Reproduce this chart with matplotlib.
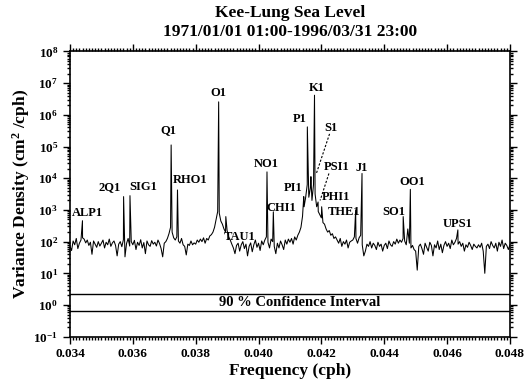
import numpy as np
import matplotlib
matplotlib.use("Agg")
import matplotlib.pyplot as plt
from matplotlib.ticker import MultipleLocator, LogLocator, NullFormatter

plt.rcParams["font.family"] = ["Liberation Serif", "DejaVu Serif"]
plt.rcParams["font.weight"] = "bold"
plt.rcParams["mathtext.fontset"] = "custom"
plt.rcParams["mathtext.rm"] = "Liberation Serif:bold"
plt.rcParams["mathtext.bf"] = "Liberation Serif:bold"
plt.rcParams["mathtext.it"] = "Liberation Serif:bold:italic"

# background spectrum, log10(cm^2/cph), one row per 0.001 cph starting at 0.034, step 0.00005
f_start = 0.034
f_step = 0.00005
bg_log = [
    1.85, 1.72, 2.02, 1.90, 2.10, 1.78, 1.95, 2.05, 2.12, 2.08, 1.96, 2.05, 1.88, 1.98, 1.60, 2.02, 1.92, 1.82, 2.00, 1.86,
    1.95, 2.05, 1.80, 1.98, 1.90, 2.08, 1.85, 1.96, 2.02, 1.88, 1.55, 1.92, 2.00, 1.84, 2.06, 1.52, 1.94, 2.10, 1.86, 2.00,
    1.90, 2.04, 1.75, 1.98, 1.88, 2.06, 1.80, 1.97, 1.62, 2.02, 1.90, 1.85, 2.03, 1.92, 1.98, 1.86, 2.05, 1.94, 1.78, 1.52,
    1.95, 2.00, 2.10, 2.25, 2.45, 2.30, 2.12, 2.05, 2.15, 2.02, 1.95, 2.10, 1.90, 1.85, 1.58, 1.92, 1.88, 2.02, 1.90, 1.96,
    1.92, 2.05, 1.98, 2.08, 2.00, 2.12, 1.95, 2.10, 2.05, 2.18, 2.22, 2.30, 2.45, 2.70, 2.95, 2.90, 2.65, 2.55, 2.40, 2.30,
    2.35, 2.15, 2.05, 1.92, 1.80, 1.62, 1.88, 1.95, 1.70, 1.90, 2.00, 1.78, 1.92, 1.55, 1.85, 1.96, 1.68, 1.90, 2.05, 1.82,
    1.95, 1.72, 2.02, 1.90, 2.05, 2.15, 1.98, 1.80, 2.08, 2.00, 1.85, 1.62, 1.95, 1.80, 2.02, 1.90, 1.75, 2.05, 1.92, 2.08,
    1.98, 2.10, 1.92, 2.15, 2.05, 2.20, 2.30, 2.45, 2.80, 3.10, 3.40, 3.80, 3.40, 3.70, 3.30, 3.80, 3.50, 3.10, 2.95, 2.85,
    2.75, 2.60, 2.55, 2.40, 2.30, 2.35, 2.20, 2.25, 2.10, 2.15, 2.05, 1.95, 2.10, 1.85, 2.00, 1.92, 2.05, 1.80, 1.98, 2.02,
    2.05, 2.15, 2.10, 1.95, 2.12, 2.20, 1.90, 1.55, 1.70, 1.92, 1.85, 2.00, 1.80, 1.95, 1.88, 1.75, 1.98, 1.85, 1.92, 1.70,
    1.88, 1.95, 1.78, 2.02, 1.90, 1.85, 2.00, 1.92, 2.08, 1.95, 2.05, 1.98, 2.10, 2.02, 1.90, 2.40, 1.95, 1.80, 1.88, 1.75,
    1.70, 1.10, 1.85, 1.92, 1.78, 1.60, 1.95, 1.82, 1.70, 1.98, 1.88, 1.55, 1.90, 1.80, 2.02, 1.75, 1.92, 1.65, 1.88, 2.00,
    1.85, 1.95, 1.78, 2.05, 1.90, 1.98, 2.10, 1.92, 2.00, 1.85, 1.95, 1.70, 1.90, 1.82, 1.98, 1.88, 1.75, 1.92, 1.85, 1.80,
    1.90, 1.82, 1.95, 1.70, 1.00, 1.85, 1.92, 1.78, 2.00, 1.88, 1.80, 1.95, 1.70, 1.98, 1.85, 2.05, 1.78, 1.95, 1.88, 1.75,
    1.90,
]

# tidal constituents: name, frequency (cph), peak log10 density
names = ["ALP1", "2Q1", "SIG1", "Q1", "RHO1", "O1", "TAU1", "NO1", "CHI1", "PI1",
         "P1", "S1", "K1", "PSI1", "PHI1", "THE1", "J1", "SO1", "OO1", "UPS1"]
peak_freq = [0.034397, 0.035706, 0.035909, 0.037219, 0.037421, 0.038731, 0.038959,
             0.040269, 0.040471, 0.041439, 0.041553, 0.041667, 0.041781, 0.041895,
             0.042009, 0.043091, 0.043293, 0.044603, 0.044831, 0.046343]
peak_log = [2.66, 3.42, 3.45, 5.05, 3.63, 6.41, 2.79, 4.20, 2.94, 3.42,
            5.62, 4.05, 6.62, 3.25, 3.10, 3.00, 4.15, 2.79, 3.65, 2.37]

ci_low = 0.63
ci_high = 2.2

# label placement (freq, log10 y) - layout only
label_pos = {
    "ALP1": (0.03454, 2.90), "2Q1": (0.03527, 3.72), "SIG1": (0.03632, 3.72),
    "Q1": (0.03712, 5.52), "RHO1": (0.03782, 3.94), "O1": (0.03871, 6.69),
    "TAU1": (0.03941, 2.14), "NO1": (0.04024, 4.44), "CHI1": (0.04073, 3.07),
    "PI1": (0.04111, 3.69), "P1": (0.04132, 5.87), "K1": (0.04185, 6.84),
    "S1": (0.04230, 5.58), "PSI1": (0.04248, 4.35), "PHI1": (0.04247, 3.40),
    "THE1": (0.04272, 2.94), "J1": (0.04329, 4.31), "SO1": (0.04431, 2.94),
    "OO1": (0.04490, 3.89), "UPS1": (0.04635, 2.55),
}

freq = f_start + f_step * np.arange(len(bg_log))
all_f = np.concatenate([freq, peak_freq])
all_v = np.concatenate([bg_log, peak_log])
order = np.argsort(all_f)
all_f = all_f[order]
all_v = 10 ** all_v[order]

fig = plt.figure(figsize=(5.25, 3.87), dpi=100)
ax = fig.add_axes([0.1333, 0.130, 0.838, 0.737])

ax.plot(all_f, all_v, color="black", lw=0.75)
ax.axhline(ci_low, color="black", lw=1.0)
ax.axhline(ci_high, color="black", lw=1.0)
ax.text(0.04132, np.sqrt(ci_low * ci_high), "90 % Confidence Interval",
        ha="center", va="center", fontsize=10.5, fontweight="bold")

for n in names:
    x, y = label_pos[n]
    ax.text(x, 10 ** y, n, ha="center", va="center", fontsize=9, fontweight="bold")

# dashed pointers for S1 and PSI1
ax.plot([0.04226, 0.04184], [10 ** 5.40, 10 ** 4.15], color="black", lw=0.8, ls=(0, (2, 1.5)))
ax.plot([0.04224, 0.04196], [10 ** 4.15, 10 ** 3.30], color="black", lw=0.8, ls=(0, (2, 1.5)))

ax.set_yscale("log")
ax.set_xlim(0.034, 0.048)
ax.set_ylim(1e-1, 1e8)
ax.xaxis.set_major_locator(MultipleLocator(0.002))
ax.xaxis.set_minor_locator(MultipleLocator(0.0001))
ax.set_xticklabels([f"{v:.3f}" for v in ax.get_xticks()])
ax.yaxis.set_major_locator(LogLocator(base=10, numticks=20))
ax.yaxis.set_minor_locator(LogLocator(base=10, subs=np.arange(2, 10), numticks=20))
ax.yaxis.set_minor_formatter(NullFormatter())
ax.tick_params(which="both", direction="out", top=True, right=True, labelsize=9.5, width=1.0)
ax.tick_params(which="major", length=5)
ax.tick_params(which="minor", length=2.5)
for s in ax.spines.values():
    s.set_linewidth(1.2)

ax.set_xlabel("Frequency (cph)", fontsize=12.5, fontweight="bold", labelpad=2)
ax.set_ylabel("Variance Density (cm$^2$ /cph)", fontsize=12.5, fontweight="bold", labelpad=1)
ax.set_title("Kee-Lung Sea Level\n1971/01/01 01:00-1996/03/31 23:00",
             fontsize=12.5, fontweight="bold", linespacing=1.3, pad=11)

fig.savefig("out.png", dpi=100)
